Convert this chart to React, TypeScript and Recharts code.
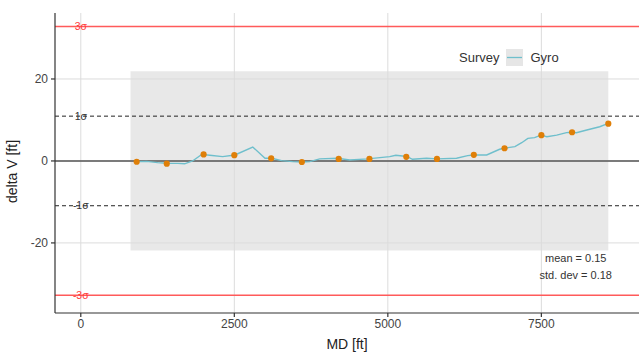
import {
  ComposedChart,
  Line,
  Scatter,
  XAxis,
  YAxis,
  ZAxis,
  ReferenceLine,
  ReferenceArea,
  ReferenceDot,
} from 'recharts';

// gyro trace (MD ft, delta V ft)
const GYRO_MD = [880, 1075, 1250, 1400, 1580, 1690, 1820, 1970, 2100, 2310, 2510, 2800, 3000, 3110, 3270, 3450, 3610, 3730, 3890, 4180, 4380, 4670, 5030, 5130, 5310, 5400, 5630, 5800, 6120, 6300, 6400, 6610, 6820, 6890, 7070, 7180, 7280, 7390, 7490, 7590, 7750, 7910, 7980, 8070, 8240, 8450, 8580];
const GYRO_DV = [-0.17, -0.1, -0.4, -0.56, -0.6, -0.7, 0, 1.6, 1.4, 1.05, 1.45, 3.4, 0.66, 0.66, 0.07, -0.17, -0.25, -0.17, 0.5, 0.66, 0.25, 0.5, 1.05, 1.4, 1.1, 0.4, 0.66, 0.5, 0.66, 1.3, 1.45, 1.45, 2.85, 3.1, 3.5, 4.45, 5.5, 5.7, 6.3, 5.9, 6.3, 6.9, 7.0, 6.9, 7.55, 8.35, 9.1];

// survey stations
const SURVEY_MD = [910, 1400, 2000, 2500, 3100, 3600, 4200, 4700, 5300, 5800, 6400, 6900, 7500, 8000, 8590];
const SURVEY_DV = [-0.2, -0.66, 1.6, 1.4, 0.65, -0.25, 0.5, 0.5, 1.0, 0.5, 1.5, 3.1, 6.3, 7.0, 9.1];

const MD_TICKS = [0, 2500, 5000, 7500];
const DV_TICKS = [-20, 0, 20];
const SIGMA = 10.93;
const BAND_MD = [810, 8590];

const gyro = GYRO_MD.map((md, i) => ({ md, dv: GYRO_DV[i] }));
const survey = SURVEY_MD.map((md, i) => ({ md, dv: SURVEY_DV[i] }));

const FONT = '"Liberation Sans", Arial, sans-serif';
const GRID = '#dcdcdc';
const sigmaLabel = (value: string, fill: string) => ({
  value,
  position: 'center' as const,
  fill,
  fontSize: 10.5,
  fontFamily: FONT,
});

export default function App() {
  return (
    <div style={{ position: 'absolute', left: 0, top: 0, width: 639, height: 353, background: '#fff', fontFamily: FONT }}>
      <ComposedChart width={639} height={353} margin={{ top: 13, right: 0, bottom: 0, left: 0 }}>
        <XAxis
          type="number"
          dataKey="md"
          domain={[-420, 9090]}
          ticks={MD_TICKS}
          allowDataOverflow
          height={40}
          stroke="#333"
          strokeWidth={1.2}
          tickSize={4}
          tickMargin={2}
          tick={{ fill: '#444', fontSize: 12, fontFamily: FONT }}
          label={{ value: 'MD [ft]', position: 'insideBottom', offset: 4, fill: '#222', fontSize: 14, fontFamily: FONT }}
        />
        <YAxis
          type="number"
          dataKey="dv"
          domain={[-37.1, 36.1]}
          ticks={DV_TICKS}
          allowDataOverflow
          width={55}
          stroke="#333"
          strokeWidth={1.2}
          tickSize={4}
          tickMargin={3}
          tick={{ fill: '#444', fontSize: 12, fontFamily: FONT }}
          label={{ value: 'delta V [ft]', angle: -90, position: 'insideLeft', offset: 12, dy: 40, fill: '#222', fontSize: 14, fontFamily: FONT }}
        />
        <ZAxis type="number" range={[30, 30]} />

        {/* major grid */}
        {MD_TICKS.map((t) => (
          <ReferenceLine key={`gx${t}`} x={t} stroke={GRID} strokeWidth={1} />
        ))}
        {DV_TICKS.map((t) => (
          <ReferenceLine key={`gy${t}`} y={t} stroke={GRID} strokeWidth={1} />
        ))}

        <ReferenceArea x1={BAND_MD[0]} x2={BAND_MD[1]} y1={-2 * SIGMA} y2={2 * SIGMA} fill="#c8c8c8" fillOpacity={0.42} stroke="none" />

        <ReferenceLine y={3 * SIGMA} stroke="#ff5a5a" strokeWidth={1.5} />
        <ReferenceLine y={-3 * SIGMA} stroke="#ff5a5a" strokeWidth={1.5} />
        <ReferenceLine y={SIGMA} stroke="#222" strokeDasharray="4 3" strokeWidth={1} />
        <ReferenceLine y={-SIGMA} stroke="#222" strokeDasharray="4 3" strokeWidth={1} />
        <ReferenceLine y={0} stroke="#555" strokeWidth={1.6} />

        <ReferenceDot x={0} y={3 * SIGMA} r={0} stroke="none" label={sigmaLabel('3σ', '#ff3b3b')} />
        <ReferenceDot x={0} y={SIGMA} r={0} stroke="none" label={sigmaLabel('1σ', '#333')} />
        <ReferenceDot x={0} y={-SIGMA} r={0} stroke="none" label={sigmaLabel('-1σ', '#333')} />
        <ReferenceDot x={0} y={-3 * SIGMA} r={0} stroke="none" label={sigmaLabel('-3σ', '#ff3b3b')} />

        <Line
          data={gyro}
          dataKey="dv"
          type="linear"
          stroke="#6fbfcc"
          strokeWidth={1.4}
          dot={false}
          activeDot={false}
          isAnimationActive={false}
        />
        <Scatter data={survey} dataKey="dv" fill="#df7f08" isAnimationActive={false} />

        <ReferenceDot x={8060} y={-23.7} r={0} stroke="none"
          label={{ value: 'mean = 0.15', position: 'center', fill: '#333', fontSize: 11, fontFamily: FONT }} />
        <ReferenceDot x={8060} y={-27.8} r={0} stroke="none"
          label={{ value: 'std. dev = 0.18', position: 'center', fill: '#333', fontSize: 11, fontFamily: FONT }} />
      </ComposedChart>

      {/* legend */}
      <div style={{ position: 'absolute', left: 459, top: 49, display: 'flex', alignItems: 'center', fontSize: 13, color: '#333', lineHeight: '16px' }}>
        <span>Survey</span>
        <svg width={17} height={17} style={{ marginLeft: 7, marginRight: 7 }}>
          <rect x={0} y={0} width={17} height={17} fill="#e6e6e6" />
          <line x1={1} y1={8.5} x2={16} y2={8.5} stroke="#6fbfcc" strokeWidth={1.3} />
        </svg>
        <span>Gyro</span>
      </div>
    </div>
  );
}
